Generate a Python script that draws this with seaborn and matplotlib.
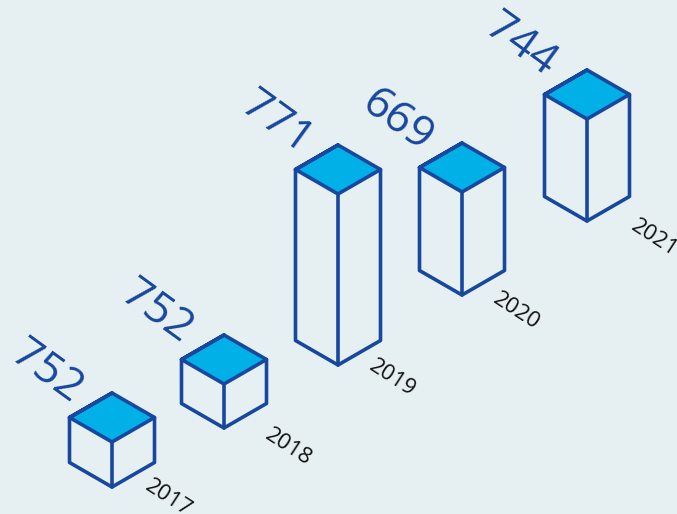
import matplotlib
matplotlib.use("Agg")
import matplotlib.pyplot as plt
import pandas as pd
import seaborn as sns

years = ["2017", "2018", "2019", "2020", "2021"]
totals = ["752", "752", "771", "669", "744"]
# Front corner of each column on the isometric ground plane, and column height
ground_x = [112, 224, 338, 462, 587]
ground_y = [487, 428, 365, 295, 221]
column_heights = [45, 44, 171, 103, 102]

BACKGROUND = "#E6F0F2"
TOP_FILL = "#00B0E6"
EDGE = "#17479E"
HALF_W, HALF_H = 42.5, 24.5

# Label placement relative to each column's lid centre / front corner
total_shift = [(-66, -45), (-68, -47), (-62, -46), (-65, -46), (-66, -49)]
year_shift = [(56, 11), (64, 19), (54, 13), (54, 16), (67, 17)]

sns.set_theme(style="white")
plt.rcParams["font.family"] = ["Open Sans", "Noto Sans", "DejaVu Sans"]

fig = plt.figure(figsize=(6.77, 5.14), dpi=100, facecolor=BACKGROUND)
ax = fig.add_axes([0, 0, 1, 1])
ax.set_facecolor(BACKGROUND)

rows = []


def add_path(part, points):
    for px, py in points:
        rows.append({"part": part, "x": px, "y": py})


for i, (gx, gy, h) in enumerate(zip(ground_x, ground_y, column_heights)):
    front_top = gy - h
    cy = front_top - HALF_H
    lid = [(gx - HALF_W, cy), (gx, cy - HALF_H), (gx + HALF_W, cy), (gx, cy + HALF_H)]
    ax.fill([p[0] for p in lid], [p[1] for p in lid], color=TOP_FILL, lw=0, zorder=1)
    add_path(f"{i}-lid", lid + lid[:2])
    add_path(f"{i}-body", [(gx - HALF_W, cy), (gx - HALF_W, cy + h),
                           (gx, gy), (gx + HALF_W, cy + h), (gx + HALF_W, cy)])
    add_path(f"{i}-edge", [(gx, front_top), (gx, gy)])

    ax.text(gx + total_shift[i][0], cy + total_shift[i][1], totals[i],
            fontsize=32, fontweight="normal", color=EDGE, rotation=-36,
            rotation_mode="anchor", ha="center", va="center")
    ax.text(gx + year_shift[i][0], gy + year_shift[i][1], years[i],
            fontsize=16, color="#111111", rotation=-33,
            rotation_mode="anchor", ha="center", va="center")

outlines = pd.DataFrame(rows)
sns.lineplot(data=outlines, x="x", y="y", units="part", estimator=None, sort=False,
             color=EDGE, linewidth=2.6, solid_joinstyle="round", solid_capstyle="round",
             legend=False, ax=ax, zorder=2)

ax.set_xlim(0, 677)
ax.set_ylim(514, 0)
ax.axis("off")
fig.savefig("out.png", dpi=100, facecolor=BACKGROUND)
